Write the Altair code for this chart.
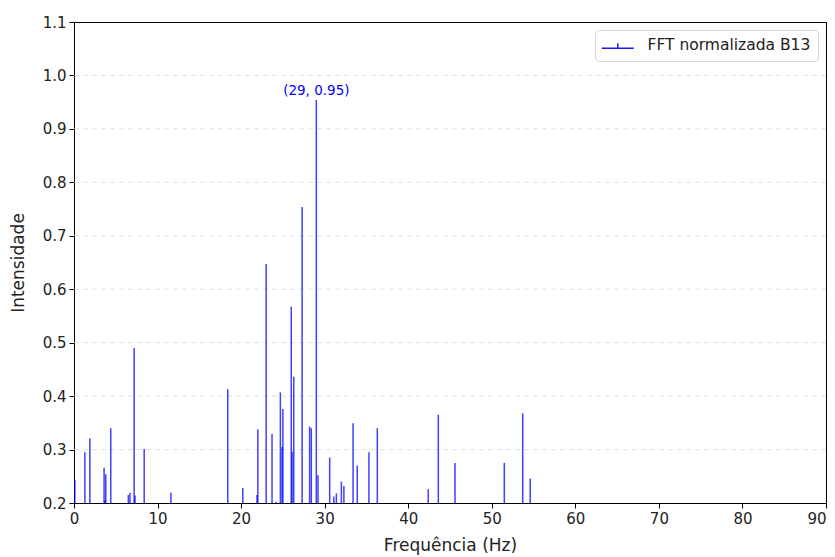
import altair as alt
import pandas as pd

freqs = [0.1, 1.3, 1.9, 3.6, 3.7, 3.8, 4.4, 6.5, 6.7, 7.2, 7.3, 8.4, 11.6, 18.4, 20.2,
         21.9, 22.0, 23.0, 23.7, 24.2, 24.7, 24.9, 25.0, 26.0, 26.1, 26.3, 27.3, 28.2,
         28.4, 29.0, 29.2, 30.6, 31.1, 31.4, 32.0, 32.3, 33.4, 33.9, 35.3, 36.3, 42.4,
         43.6, 45.6, 51.5, 53.7, 54.6]
intens = [0.243, 0.295, 0.321, 0.266, 0.205, 0.254, 0.34, 0.215, 0.219, 0.49, 0.214,
          0.301, 0.219, 0.413, 0.228, 0.215, 0.338, 0.647, 0.329, 0.202, 0.407, 0.305,
          0.376, 0.567, 0.296, 0.436, 0.754, 0.343, 0.34, 0.954, 0.252, 0.285, 0.212,
          0.218, 0.24, 0.232, 0.349, 0.27, 0.295, 0.34, 0.226, 0.365, 0.275, 0.275,
          0.368, 0.246]
series_name = "FFT normalizada B13"
peak_f = [29]
peak_v = [0.95]
peak_label = ["(29, 0.95)"]
y_ticks = [0.2, 0.3, 0.4, 0.5, 0.6, 0.7, 0.8, 0.9, 1.0, 1.1]
grid_vals = [0.3, 0.4, 0.5, 0.6, 0.7, 0.8, 0.9, 1.0]
x_ticks = [0, 10, 20, 30, 40, 50, 60, 70, 80, 90]

df = pd.DataFrame({"f": freqs, "v": intens, "serie": [series_name] * len(freqs)})
pk = pd.DataFrame({"f": peak_f, "v": peak_v, "label": peak_label})
gd = pd.DataFrame({"g": grid_vals})

FONT = "DejaVu Sans"

xscale = alt.Scale(domain=[0, 90], nice=False, zero=False)
yscale = alt.Scale(domain=[0.2, 1.1], nice=False, zero=False)
yaxis = alt.Axis(title="Intensidade", values=y_ticks, format=".1f", grid=False,
                 labelFlush=False)
xaxis = alt.Axis(title="Frequência (Hz)", values=x_ticks, grid=False, labelFlush=False,
                 labelAlign={"condition": {"test": "datum.value == 90", "value": "right"},
                             "value": "center"})

grid = alt.Chart(gd).mark_rule(strokeDash=[5, 4], color="#d8d8d8", strokeWidth=0.8).encode(
    y=alt.Y("g:Q", scale=yscale, axis=yaxis),
)

stems = alt.Chart(df).mark_rule(strokeWidth=1.5, opacity=0.75, clip=True).encode(
    x=alt.X("f:Q", scale=xscale, axis=xaxis),
    y=alt.Y("v:Q", scale=yscale, axis=yaxis),
    y2=alt.datum(0.2),
    color=alt.Color("serie:N",
                    scale=alt.Scale(domain=[series_name], range=["#0000ff"]),
                    legend=alt.Legend(title=None, orient="top-right", offset=8,
                                      symbolType="M-2.46,0.54L2.46,0.54M0,0.54L0,-0.23",
                                      symbolSize=169, symbolStrokeWidth=1.5,
                                      symbolOpacity=0.9, symbolOffset=8,
                                      labelOffset=22, labelLimit=400,
                                      labelFontSize=15.5, labelFont=FONT, labelColor="#222",
                                      strokeColor="#d6d6d6", cornerRadius=4,
                                      padding=7, fillColor="white")),
)

ann = alt.Chart(pk).mark_text(color="#0000ff", fontSize=13.5, font=FONT, dy=-4,
                              baseline="bottom", align="center").encode(
    x=alt.X("f:Q", scale=xscale),
    y=alt.Y("v:Q", scale=yscale),
    text="label:N",
)

chart = (grid + stems + ann).properties(
    width=752, height=481,
    autosize=alt.AutoSizeParams(type="none"),
    padding={"left": 66, "top": 14, "right": 1, "bottom": 53},
).configure_view(stroke="black", strokeWidth=1).configure_axis(
    labelFont=FONT, titleFont=FONT, labelFontSize=15, titleFontSize=17,
    labelColor="#222", titleColor="#222", titleFontWeight="normal",
    domainColor="black", tickColor="black", tickSize=5, labelPadding=3,
).configure_axisX(titlePadding=11).configure_axisY(titlePadding=15)

chart.save("out.html", embed_options={"renderer": "svg", "actions": False})
